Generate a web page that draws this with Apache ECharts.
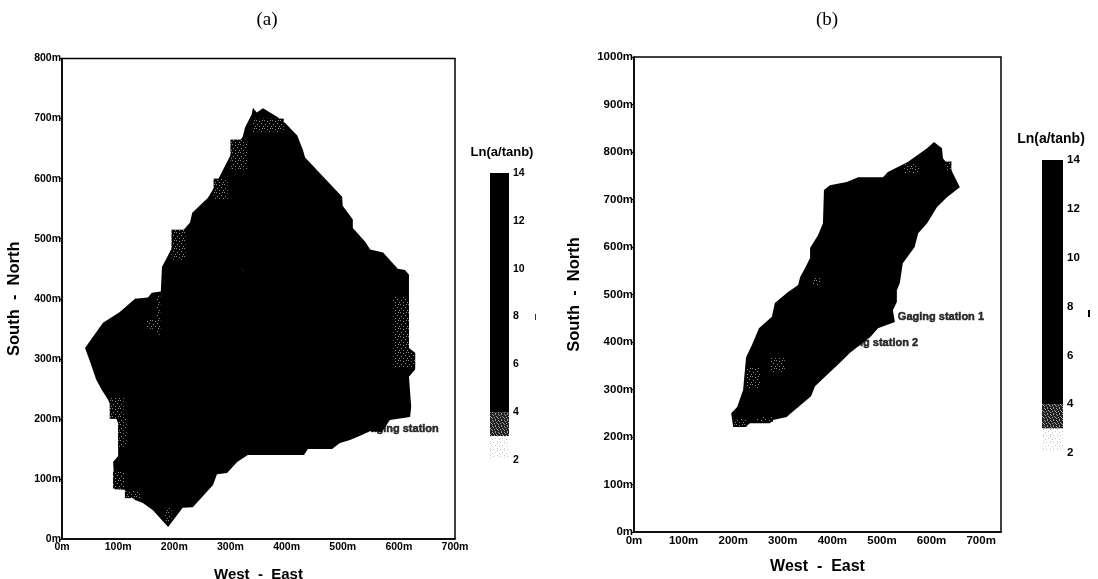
<!DOCTYPE html>
<html>
<head>
<meta charset="utf-8">
<style>html,body{margin:0;padding:0;background:#fff}#c{width:1098px;height:579px}</style>
<script src="https://cdn.jsdelivr.net/npm/echarts@6/dist/echarts.min.js"></script>
</head>
<body>
<div id="c"></div>
<script>
// Basin outlines, metres east / metres north
const basinA = [[358,717],[383,703],[397,693],[419,672],[429,648],[433,635],[499,570],[500,555],[518,532],[518,518],[540,495],[549,482],[572,477],[598,450],[611,448],[618,440],[618,318],[629,310],[629,282],[618,270],[622,220],[620,203],[584,198],[570,178],[549,180],[534,173],[513,165],[495,160],[481,150],[438,150],[431,140],[331,140],[312,128],[294,110],[276,108],[269,90],[233,53],[215,52],[189,20],[162,48],[144,60],[130,65],[112,82],[94,83],[91,128],[100,138],[100,193],[82,232],[71,248],[61,265],[50,295],[41,318],[73,360],[103,378],[130,400],[153,402],[160,410],[176,412],[178,453],[192,478],[205,502],[228,527],[232,543],[260,568],[272,587],[287,615],[299,637],[322,670],[326,685],[338,707],[340,718],[347,710]];
const basinB = [[605,821],[621,808],[623,787],[637,768],[657,726],[631,705],[611,684],[591,650],[573,629],[566,600],[542,566],[536,524],[530,509],[530,484],[522,467],[526,442],[492,429],[476,410],[435,377],[421,362],[365,307],[357,286],[314,248],[308,242],[280,236],[274,229],[234,229],[224,221],[200,221],[196,250],[208,263],[220,299],[226,368],[238,394],[252,429],[278,453],[284,482],[310,505],[331,520],[335,537],[345,556],[355,577],[355,598],[371,625],[381,650],[383,720],[395,730],[429,737],[452,747],[502,747],[512,758],[552,779],[591,808]];
// Lighter (low index) patches inside the basins: [x0, y0, x1, y1]
const lowPatchesA = [[100,152,115,200],[85,200,110,235],[91,84,112,112],[112,68,140,82],[183,30,195,52],[340,677,395,700],[300,615,330,665],[270,565,295,600],[195,465,220,515],[590,285,618,403],[618,285,629,310],[168,340,175,405],[150,350,168,365],[320,447,325,452]];
const lowPatchesB = [[226,303,254,347],[202,222,228,240],[248,232,280,242],[274,337,304,366],[360,520,375,537],[545,755,575,775],[628,760,640,780]];
// Gaging stations
const stationsA = [[534,183,'Gaging station']];
const stationsB = [[532,453,'Gaging station 1'],[399,398,'Gaging station 2']];
// Colour scale
const scaleTicks = [2,4,6,8,10,12,14];
const scaleBlack = [4,14];
const scaleDark = [3,4];
const scaleSparse = [2.1,3];

function pattern(size, bg, dots, dotColor){
  const c = document.createElement('canvas'); c.width = c.height = size;
  const g = c.getContext('2d');
  if (bg) { g.fillStyle = bg; g.fillRect(0,0,size,size); }
  g.fillStyle = dotColor;
  dots.forEach(d => g.fillRect(d[0],d[1],1,1));
  return {image:c, repeat:'repeat'};
}
const patchFill = pattern(8,'#000',[[0,0],[3,1],[6,0],[1,4],[5,3],[7,6],[3,6]],'#8a8a8a');
const darkFill = pattern(6,'#222',[[0,0],[3,0],[1,1],[4,2],[2,3],[5,3],[0,4],[3,5]],'#9a9a9a');
const sparseFill = pattern(7,'#fff',[[0,0],[0,2],[3,1],[5,4],[2,5]],'#c4c4c4');

const polySeries = (pts, idx, fill) => ({
  type:'custom', xAxisIndex:idx, yAxisIndex:idx, silent:true, animation:false, clip:false,
  data:[pts[0]], z:2,
  renderItem:(p,api)=>({type:'polygon',shape:{points:pts.map(q=>api.coord(q))},style:{fill:fill}})
});
const rectSeries = (rects, idx, z) => ({
  type:'custom', xAxisIndex:idx, yAxisIndex:idx, silent:true, animation:false, clip:false,
  data:rects.map(r=>r), z:z, encode:{x:[0,2],y:[1,3]},
  renderItem:(p,api)=>{
    const a=api.coord([api.value(0),api.value(3)]), b=api.coord([api.value(2),api.value(1)]);
    return {type:'rect',shape:{x:a[0],y:a[1],width:b[0]-a[0],height:b[1]-a[1]},style:{fill:patchFill}};
  }
});
const stationSeries = (st, idx) => ({
  type:'scatter', xAxisIndex:idx, yAxisIndex:idx, silent:true, animation:false, symbolSize:0, z:5,
  data:st.map(s=>({value:[s[0],s[1]],name:s[2]})),
  label:{show:true,position:'right',distance:0,formatter:'{b}',color:'#000',fontFamily:'Liberation Sans',fontWeight:'bold',fontSize:11,textBorderColor:'#000',textBorderWidth:0.5}
});
const barSeries = (range, idx, fill) => ({
  type:'custom', xAxisIndex:idx, yAxisIndex:idx, silent:true, animation:false, clip:false,
  data:[range], z:2,
  renderItem:(p,api)=>{
    const a=api.coord([0,range[1]]), b=api.coord([1,range[0]]);
    return {type:'rect',shape:{x:a[0],y:a[1],width:b[0]-a[0],height:b[1]-a[1]},style:{fill:fill}};
  }
});
const mFmt = v => (v%100===0 ? v+'m' : '');
const xAx = (grid,max,fs,gap,nfs) => ({type:'value',gridIndex:grid,min:0,max:max,interval:100,
  name:'West  -  East',nameLocation:'middle',nameGap:gap,
  nameTextStyle:{fontFamily:'Liberation Sans',fontWeight:'bold',fontSize:nfs,color:'#000'},
  splitLine:{show:false},axisTick:{show:false},
  axisLine:{show:true,onZero:false,lineStyle:{color:'#000',width:1.5}},
  axisLabel:{formatter:mFmt,margin:3,color:'#000',fontFamily:'Liberation Sans',fontWeight:'bold',fontSize:fs,showMinLabel:true,showMaxLabel:true,hideOverlap:false}
});
const yAx = (grid,max,fs,gap) => ({type:'value',gridIndex:grid,min:0,max:max,interval:100,
  name:'South  -  North',nameLocation:'middle',nameGap:gap,nameRotate:90,
  nameTextStyle:{fontFamily:'Liberation Sans',fontWeight:'bold',fontSize:16.5,color:'#000'},
  splitLine:{show:false},axisTick:{show:true,length:2,lineStyle:{color:'#000',width:1}},
  axisLine:{show:true,onZero:false,lineStyle:{color:'#000',width:1.5}},
  axisLabel:{formatter:mFmt,margin:1,color:'#000',fontFamily:'Liberation Sans',fontWeight:'bold',fontSize:fs}
});
const barX = grid => ({type:'value',gridIndex:grid,min:0,max:1,show:false});
const barY = (grid,fs) => ({type:'value',gridIndex:grid,min:2,max:14,interval:2,position:'right',
  splitLine:{show:false},axisLine:{show:false},axisTick:{show:false},
  axisLabel:{margin:4,color:'#000',fontFamily:'Liberation Sans',fontWeight:'bold',fontSize:fs,
    customValues:scaleTicks}
});
const chart = echarts.init(document.getElementById('c'),null,{renderer:'canvas'});
chart.setOption({
  backgroundColor:'#fff',
  animation:false,
  title:[
    {text:'(a)',left:262,top:6,textAlign:'center',textStyle:{fontFamily:'Liberation Serif',fontWeight:'normal',fontSize:19,color:'#000'}},
    {text:'(b)',left:822,top:6,textAlign:'center',textStyle:{fontFamily:'Liberation Serif',fontWeight:'normal',fontSize:19,color:'#000'}},
    {text:'Ln(a/tanb)',left:497,top:141,textAlign:'center',textStyle:{fontFamily:'Liberation Sans',fontWeight:'bold',fontSize:13,color:'#000'}},
    {text:'Ln(a/tanb)',left:1046,top:127,textAlign:'center',textStyle:{fontFamily:'Liberation Sans',fontWeight:'bold',fontSize:14,color:'#000'}}
  ],
  grid:[
    {left:62,top:58.5,width:393,height:480.5,show:true,borderColor:'#000',borderWidth:1.5,backgroundColor:'#fff',outerBoundsMode:'none'},
    {left:634,top:57,width:367,height:475,show:true,borderColor:'#000',borderWidth:1.5,backgroundColor:'#fff',outerBoundsMode:'none'},
    {left:490,top:173,width:19,height:287,outerBoundsMode:'none'},
    {left:1042,top:160,width:21,height:293,outerBoundsMode:'none'}
  ],
  xAxis:[xAx(0,700,10.5,28,15),xAx(1,740,11.5,27,16),barX(2),barX(3)],
  yAxis:[yAx(0,800,10.5,39,0),yAx(1,1000,11.5,51),barY(2,10.5),barY(3,11.5)],
  series:[
    polySeries(basinA,0,'#000'),
    rectSeries(lowPatchesA,0,3),
    stationSeries(stationsA,0),
    polySeries(basinB,1,'#000'),
    rectSeries(lowPatchesB,1,3),
    stationSeries(stationsB,1),
    barSeries(scaleBlack,2,'#000'),barSeries(scaleDark,2,darkFill),barSeries(scaleSparse,2,sparseFill),
    barSeries(scaleBlack,3,'#000'),barSeries(scaleDark,3,darkFill),barSeries(scaleSparse,3,sparseFill)
  ],
  graphic:[
    {type:'rect',shape:{x:535,y:314,width:1,height:6},style:{fill:'#333'}},
    {type:'rect',shape:{x:1088,y:310,width:2,height:7},style:{fill:'#000'}}
  ]
});
</script>
</body>
</html>
